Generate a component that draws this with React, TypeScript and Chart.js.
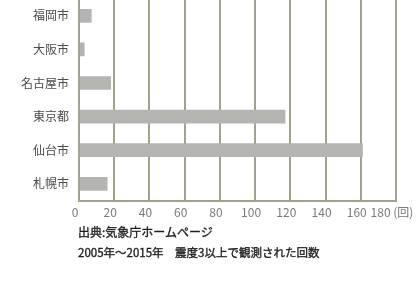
import React, { useEffect, useRef } from "react";
import { Chart, registerables } from "chart.js";

Chart.register(...registerables);

const categories = ["福岡市", "大阪市", "名古屋市", "東京都", "仙台市", "札幌市"];
const counts = [7, 3, 18, 117, 161, 16];
const xTickLabels = ["0", "20", "40", "60", "80", "100", "120", "140", "160", "180 (回)"];
const sourceNote = "出典:気象庁ホームページ";
const periodNote = "2005年～2015年　震度3以上で観測された回数";

const FONT = "'Noto Sans CJK JP', 'Noto Sans', sans-serif";

export default function App() {
  const ref = useRef<HTMLCanvasElement | null>(null);

  useEffect(() => {
    document.body.style.margin = "0";
    document.body.style.background = "#ffffff";
    if (!ref.current) return;
    const chart = new Chart(ref.current, {
      type: "bar",
      data: {
        labels: categories,
        datasets: [
          {
            data: counts,
            backgroundColor: "#b4b5b0",
            borderWidth: 0,
            barThickness: 13,
          },
        ],
      },
      options: {
        indexAxis: "y",
        animation: false,
        responsive: false,
        events: [],
        layout: { padding: { top: 20, right: 64, bottom: 3, left: 0 } },
        plugins: {
          legend: { display: false },
          tooltip: { enabled: false },
          title: { display: false },
        },
        scales: {
          x: {
            min: 0,
            max: 180,
            ticks: {
              stepSize: 20,
              color: "#7a7a7a",
              font: { family: FONT, size: 12 },
              padding: 5,
              labelOffset: -4,
              maxRotation: 0,
              autoSkip: false,
              callback: (_v: any, i: number) => xTickLabels[i],
            },
            grid: {
              color: "#9da58c",
              lineWidth: 2,
              drawTicks: false,
            },
            border: { display: true, color: "#9da58c", width: 2 },
          },
          y: {
            afterFit: (scale: any) => {
              scale.width = 79;
            },
            ticks: {
              color: "#4a4a4a",
              font: { family: FONT, size: 12 },
              padding: 10,
            },
            grid: { display: false, drawTicks: false },
            border: { display: false },
          },
        },
      },
    });
    return () => chart.destroy();
  }, []);

  const noteStyle: React.CSSProperties = {
    position: "absolute",
    left: 78,
    fontFamily: FONT,
    color: "#1e1e1e",
    whiteSpace: "nowrap",
    lineHeight: "16px",
    fontWeight: 400,
    WebkitTextStroke: "0.35px #1e1e1e",
  };

  return (
    <div
      style={{
        position: "relative",
        width: 416,
        height: 282,
        overflow: "hidden",
        background: "#ffffff",
      }}
    >
      <canvas
        ref={ref}
        width={460}
        height={249}
        style={{ position: "absolute", left: 0, top: -21, width: 460, height: 249 }}
      />
      <div style={{ ...noteStyle, top: 224, fontSize: 12 }}>{sourceNote}</div>
      <div style={{ ...noteStyle, top: 244, fontSize: 11.5 }}>{periodNote}</div>
    </div>
  );
}
